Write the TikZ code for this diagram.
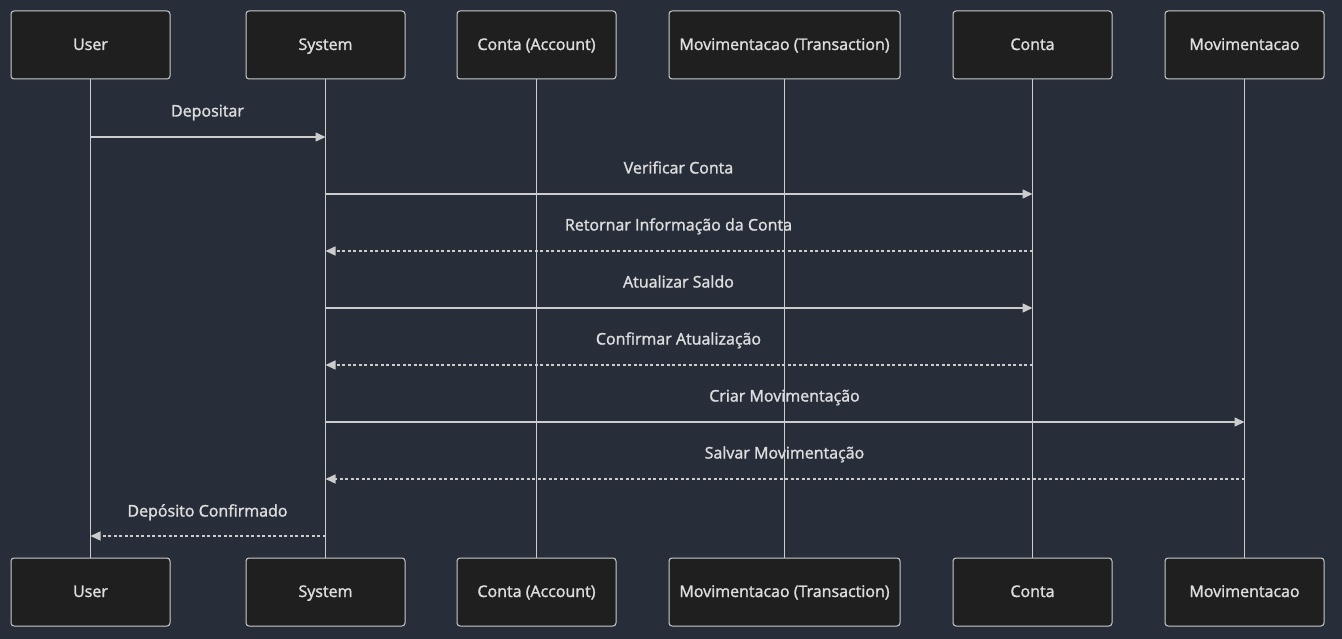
\documentclass[tikz,border=0pt]{standalone}
\usepackage{fontspec}
\setmainfont{Open Sans}
\newfontfamily\lblfont{Open Sans}[FakeBold=1.6]
\usetikzlibrary{arrows.meta}
\definecolor{bgc}{HTML}{282D3A}
\definecolor{boxc}{HTML}{1F1F1F}
\definecolor{linec}{HTML}{CCCCCC}
\definecolor{txtc}{HTML}{DDDDDD}
\begin{document}
\begin{tikzpicture}[x=1pt,y=-1pt,
  actor/.style={draw=linec, fill=boxc, line width=1pt, rounded corners=3pt, minimum height=68pt, text=txtc, font=\lblfont\fontsize{16}{18}\selectfont, inner sep=0pt, text height=12pt, text depth=2pt},
  life/.style={draw=linec, line width=1.8pt},
  msg/.style={draw=linec, line width=1.5pt, -{Triangle[length=10pt,width=9pt]}},
  ret/.style={msg, dash pattern=on 3pt off 2.5pt},
  lbl/.style={text=txtc, font=\lblfont\fontsize{16}{18}\selectfont, inner sep=0pt, text height=11pt, text depth=3pt}]
\fill[bgc] (0,0) rectangle (1342,639);
\useasboundingbox (0,0) rectangle (1342,639);
% top actors
\node[actor, minimum width=159pt] (u1) at (90.5,45) {User};
\node[actor, minimum width=159pt] (s1) at (325.5,45) {System};
\node[actor, minimum width=159pt] (a1) at (536.5,45) {Conta (Account)};
\node[actor, minimum width=231pt] (t1) at (784.5,45) {Movimentacao (Transaction)};
\node[actor, minimum width=159pt] (c1) at (1032.5,45) {Conta};
\node[actor, minimum width=159pt] (m1) at (1244.5,45) {Movimentacao};
% bottom actors
\node[actor, minimum width=159pt] (u2) at (90.5,592) {User};
\node[actor, minimum width=159pt] (s2) at (325.5,592) {System};
\node[actor, minimum width=159pt] (a2) at (536.5,592) {Conta (Account)};
\node[actor, minimum width=231pt] (t2) at (784.5,592) {Movimentacao (Transaction)};
\node[actor, minimum width=159pt] (c2) at (1032.5,592) {Conta};
\node[actor, minimum width=159pt] (m2) at (1244.5,592) {Movimentacao};
% lifelines
\foreach \n in {u,s,a,t,c,m}{\draw[life] (\n1.south) -- (\n2.north);}
% message coordinates
\foreach \y/\i in {137/1,194/2,251/3,308/4,365/5,422/6,479/7,536/8}{
  \coordinate (u\i) at (u1.south |- 0,\y);
  \coordinate (s\i) at (s1.south |- 0,\y);
  \coordinate (c\i) at (c1.south |- 0,\y);
  \coordinate (m\i) at (m1.south |- 0,\y);
}
\draw[msg] (u1) -- (s1);
\draw[msg] (s2) -- (c2);
\draw[ret] (c3) -- (s3);
\draw[msg] (s4) -- (c4);
\draw[ret] (c5) -- (s5);
\draw[msg] (s6) -- (m6);
\draw[ret] (m7) -- (s7);
\draw[ret] (s8) -- (u8);
% labels
\node[lbl] (l1) at (207.5,112.5) {Depositar};
\node[lbl] (l2) at (678.5,169.5) {Verificar Conta};
\node[lbl] (l3) at (678.5,226.5) {Retornar Informação da Conta};
\node[lbl] (l4) at (678.5,283.5) {Atualizar Saldo};
\node[lbl] (l5) at (678.5,340.5) {Confirmar Atualização};
\node[lbl] (l6) at (784.5,397.5) {Criar Movimentação};
\node[lbl] (l7) at (784.5,454.5) {Salvar Movimentação};
\node[lbl] (l8) at (207.5,512.5) {Depósito Confirmado};
\end{tikzpicture}
\end{document}
